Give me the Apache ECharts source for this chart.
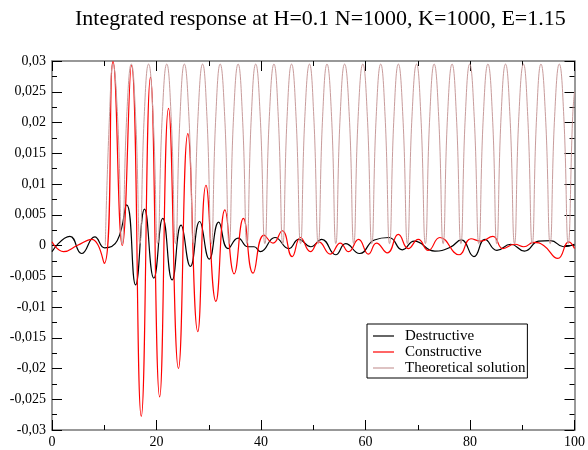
<!DOCTYPE html>
<html>
<head>
<meta charset="utf-8">
<script src="https://cdn.jsdelivr.net/npm/echarts@6/dist/echarts.min.js"></script>
<style>
    html, body { margin: 0; padding: 0; background: #fff; }
    #chart { width: 588px; height: 450px; }
</style>
</head>
<body>
<div id="chart"></div>
<script type="text/javascript">
    // values, [x, y]
    var destructive = [
        [0, -0.001], [3.43, 0.0015], [5.66, -0.0013], [8.19, 0.0014], [10.1, -0.0004],
        [12.5, 0.0008], [14.29, 0.0066], [16.0, -0.0064], [17.71, 0.0059], [19.49, -0.0053],
        [21.2, 0.0044], [22.99, -0.0056], [24.7, 0.0033], [26.48, -0.0034], [28.25, 0.0039],
        [30.1, -0.0022], [31.9, 0.0038], [33.7, -0.0005], [35.62, 0.0012], [37.52, -0.0002],
        [38.67, -0.0002], [39.9, -0.001], [42.67, 0.0013], [45.33, -0.0005], [47.24, 0.001],
        [49.52, -0.0002], [51.62, 0.001], [54.3, -0.0015], [56.2, 0.0003], [58.86, -0.0013],
        [61.7, 0.0009], [64.5, 0.0013], [67.05, -0.0007], [69.33, 0.0007], [73.28, -0.0009],
        [76.19, -0.0003], [78.34, 0.0009], [80.76, -0.0018], [82.86, 0.001], [85.14, -0.0008],
        [87.81, 0.0002], [90.42, -0.0009], [93.14, 0.0007], [95.43, 0.0008], [97.9, -0.0002],
        [100, 0.0002]
    ];

    var constructive = [
        [0, 0.0006], [2.2, -0.001], [4.8, 0.0], [7.6, 0.001], [10.0, -0.0029],
        [11.68, 0.0299], [13.45, 0.0], [15.2, 0.0293], [17.08, -0.0278], [18.85, 0.0274],
        [20.6, -0.0246], [22.3, 0.0223], [24.2, -0.02], [26.0, 0.0182], [27.9, -0.014],
        [29.47, 0.0098], [31.37, -0.0091], [33.1, 0.0058], [34.86, -0.0046], [36.63, 0.0044],
        [38.48, -0.0045], [40.57, 0.0017], [42.3, 0.0004], [44.06, 0.0024], [45.96, -0.0018],
        [47.56, 0.0013], [49.47, -0.001], [51.05, 0.0006], [53.28, -0.0014], [55.18, 0.0004],
        [56.76, -0.001], [58.67, 0.001], [60.57, -0.0014], [62.1, 0.0004], [64.19, -0.0012],
        [66.29, 0.0018], [68.19, -0.0005], [70.1, 0.001], [72.0, -0.0008], [74.23, 0.0013],
        [77.9, -0.0015], [80.19, 0.0011], [82.1, 0.0007], [84.38, 0.0015], [86.3, -0.0005],
        [88.6, 0.0002], [90.3, -0.0002], [92.2, 0.0005], [94.1, 0.0], [96.8, -0.0021],
        [98.9, 0.0006], [100, -0.0005]
    ];

    var theoretical = [
        [10.2, 0], [11.0, 0.021], [11.68, 0.0295], [12.55, 0.021], [13.43, 0.0003],
        [14.3, 0.021], [15.18, 0.0295], [16.0, 0.021], [16.83, 0.0003], [17.65, 0.021],
        [18.48, 0.0295], [19.35, 0.021], [20.22, 0.0003], [21.1, 0.021], [21.96, 0.0295],
        [22.8, 0.021], [23.65, 0.0003], [24.5, 0.021], [25.33, 0.0295], [26.2, 0.021],
        [27.08, 0.0003], [27.95, 0.021], [28.82, 0.0295], [29.65, 0.021], [30.51, 0.0003],
        [31.35, 0.021], [32.19, 0.0295], [33.05, 0.021], [33.91, 0.0003], [34.75, 0.021],
        [35.62, 0.0295], [36.45, 0.021], [37.31, 0.0003], [38.15, 0.021], [38.99, 0.0295],
        [39.85, 0.021], [40.74, 0.0003], [41.6, 0.021], [42.48, 0.0295], [43.3, 0.021],
        [44.17, 0.0003], [45.0, 0.021], [45.85, 0.0295], [46.7, 0.021], [47.57, 0.0003],
        [48.4, 0.021], [49.28, 0.0295], [50.1, 0.021], [50.96, 0.0003], [51.8, 0.021],
        [52.63, 0.0295], [53.5, 0.021], [54.32, 0.0003], [55.15, 0.021], [56.0, 0.0295],
        [56.9, 0.021], [57.75, 0.0003], [58.6, 0.021], [59.49, 0.0295], [60.35, 0.021],
        [61.2, 0.0003], [62.05, 0.021], [62.91, 0.0295], [63.75, 0.021], [64.6, 0.0003],
        [65.45, 0.021], [66.29, 0.0295], [67.15, 0.021], [68.03, 0.0003], [68.9, 0.021],
        [69.77, 0.0295], [70.6, 0.021], [71.46, 0.0003], [72.3, 0.021], [73.14, 0.0295],
        [74.0, 0.021], [74.86, 0.0003], [75.7, 0.021], [76.57, 0.0295], [77.4, 0.021],
        [78.26, 0.0003], [79.1, 0.021], [79.94, 0.0295], [80.8, 0.021], [81.69, 0.0003],
        [82.55, 0.021], [83.43, 0.0295], [84.3, 0.021], [85.12, 0.0003], [85.95, 0.021],
        [86.8, 0.0295], [87.65, 0.021], [88.52, 0.0003], [89.35, 0.021], [90.23, 0.0295],
        [91.05, 0.021], [91.91, 0.0003], [92.75, 0.021], [93.58, 0.0295], [94.45, 0.021],
        [95.34, 0.0003], [96.2, 0.021], [97.09, 0.0295], [97.95, 0.021], [98.8, 0.0003],
        [99.65, 0.021], [100, 0.025]
    ];

    var seriesNames = ['Destructive', 'Constructive', 'Theoretical solution'];
    var seriesColors = ['#000000', '#ff0000', '#c89b9b'];

    var font = 'Liberation Serif';

    function yLabel(v) {
        return String(parseFloat(v.toFixed(4))).replace('.', ',');
    }

    function axisX(pos, labels) {
        return {
            type: 'value', position: pos, min: 0, max: 100, interval: 20,
            axisLine: { show: true, onZero: false, lineStyle: { color: '#777', width: 1.5 } },
            axisTick: { show: true, inside: true, length: 10, lineStyle: { color: '#000' } },
            minorTick: { show: true, splitNumber: 2, length: 5, lineStyle: { color: '#000' } },
            splitLine: { show: false },
            axisLabel: { show: labels, color: '#000', fontFamily: font, fontSize: 14, margin: 5 }
        };
    }

    function axisY(pos, labels) {
        return {
            type: 'value', position: pos, min: -0.03, max: 0.03, interval: 0.005,
            axisLine: { show: true, onZero: false, lineStyle: { color: '#777', width: 1.5 } },
            axisTick: { show: true, inside: true, length: 10, lineStyle: { color: '#000' } },
            minorTick: { show: true, splitNumber: 2, length: 5, lineStyle: { color: '#000' } },
            splitLine: { show: false },
            axisLabel: { show: labels, color: '#000', fontFamily: font, fontSize: 14, margin: 6, formatter: yLabel }
        };
    }

    var chart = echarts.init(document.getElementById('chart'), null, { renderer: 'canvas' });

    var option = {
        animation: false,
        backgroundColor: '#fff',
        title: {
            text: 'Integrated response at H=0.1 N=1000, K=1000, E=1.15',
            left: 70,
            top: 3,
            textStyle: { fontFamily: font, fontSize: 22, fontWeight: 'normal', color: '#000' }
        },
        legend: {
            orient: 'vertical',
            left: 367,
            top: 324,
            data: seriesNames,
            icon: 'rect',
            itemWidth: 21,
            itemHeight: 1.2,
            itemGap: 0,
            padding: [4, 2, 2, 6],
            borderColor: '#000',
            borderWidth: 1,
            textStyle: { fontFamily: font, fontSize: 15, lineHeight: 16, color: '#000', padding: [0, 0, 0, 6] }
        },
        grid: { left: 52, right: 10, top: 61, bottom: 20 },
        xAxis: [axisX('bottom', true), axisX('top', false)],
        yAxis: [axisY('left', true), axisY('right', false)],
        series: [
            {
                name: seriesNames[0], type: 'line', data: destructive, symbol: 'none', smooth: 0.5,
                lineStyle: { color: seriesColors[0], width: 1.2 }, itemStyle: { color: seriesColors[0] }
            },
            {
                name: seriesNames[1], type: 'line', data: constructive, symbol: 'none', smooth: 0.5,
                lineStyle: { color: seriesColors[1], width: 1.2 }, itemStyle: { color: seriesColors[1] }
            },
            {
                name: seriesNames[2], type: 'line', data: theoretical, symbol: 'none', smooth: 0.5,
                lineStyle: { color: seriesColors[2], width: 1 }, itemStyle: { color: seriesColors[2] }
            }
        ]
    };

    chart.setOption(option);
</script>
</body>
</html>
